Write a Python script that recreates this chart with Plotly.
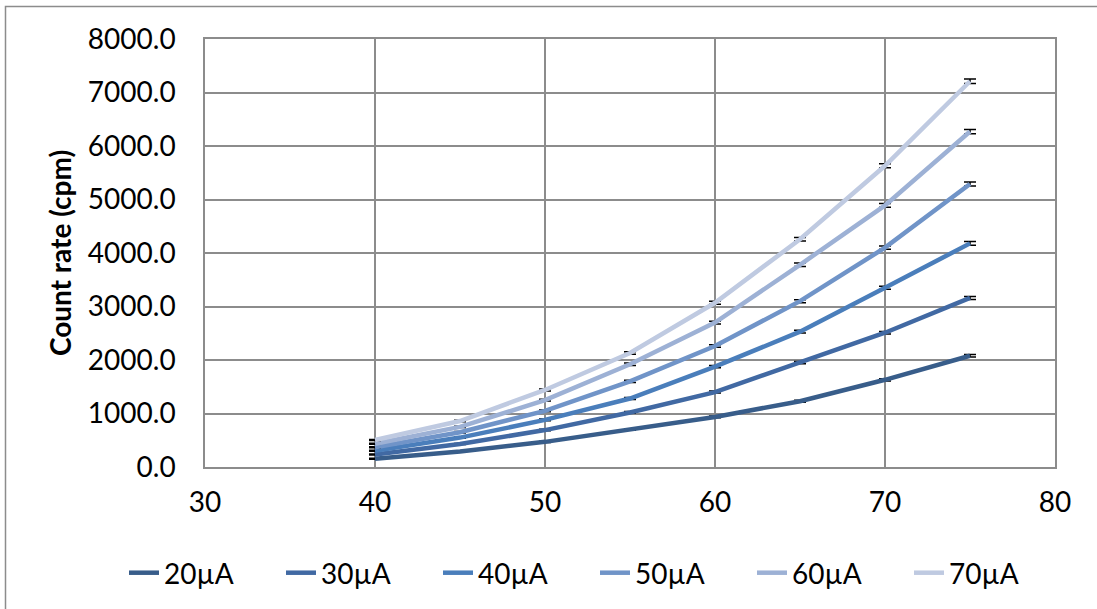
import plotly.graph_objects as go

voltage = [40, 45, 50, 55, 60, 65, 70, 75]
series_names = ["20µA", "30µA", "40µA", "50µA", "60µA", "70µA"]
rate_20 = [155, 290, 470, 700, 935, 1230, 1630, 2080]
rate_30 = [235, 430, 690, 1020, 1400, 1950, 2510, 3160]
rate_40 = [305, 550, 880, 1280, 1875, 2530, 3350, 4180]
rate_50 = [370, 650, 1050, 1600, 2262, 3100, 4100, 5290]
rate_60 = [435, 750, 1250, 1920, 2700, 3780, 4890, 6270]
rate_70 = [505, 860, 1440, 2130, 3070, 4256, 5630, 7210]
err_20 = [8, 10, 12, 14, 16, 18, 21, 24]
err_30 = [9, 11, 14, 17, 19, 22, 25, 28]
err_40 = [10, 12, 15, 18, 22, 25, 29, 33]
err_50 = [10, 13, 17, 20, 24, 28, 32, 37]
err_60 = [11, 14, 18, 22, 26, 31, 35, 40]
err_70 = [11, 15, 19, 23, 28, 33, 38, 43]

rates = [rate_20, rate_30, rate_40, rate_50, rate_60, rate_70]
errs = [err_20, err_30, err_40, err_50, err_60, err_70]
colors = ["#385D8A", "#4169A3", "#4A7EBB", "#7094C8", "#9DB1D5", "#BFCAE1"]

FONT = "Lato"
FS = 28
fig = go.Figure()
for name, r, e, c in zip(series_names, rates, errs, colors):
    fig.add_trace(go.Scatter(
        x=voltage, y=r, name=name, mode="lines",
        line=dict(color=c, width=4.5),
        error_y=dict(type="data", array=e, visible=True, color="black",
                     thickness=1.5, width=6),
    ))

L, R, T, B = 205, 42, 39, 142
W, H = 1097, 609
pw, ph = W - L - R, H - T - B

def px_x(p):
    return (p - L) / pw

def px_y(p):
    return (H - B - p) / ph

fig.update_layout(
    width=W, height=H,
    margin=dict(l=L, r=R, t=T, b=B, autoexpand=False),
    paper_bgcolor="white", plot_bgcolor="white",
    font=dict(family=FONT, size=FS, color="black"),
    showlegend=True,
    legend=dict(orientation="h",
                x=px_x(124), xanchor="left",
                y=px_y(573), yanchor="middle",
                font=dict(family=FONT, size=FS),
                entrywidth=112, itemwidth=30,
                bgcolor="rgba(0,0,0,0)"),
    xaxis=dict(range=[30, 80], dtick=10, tick0=30,
               showgrid=True, gridcolor="#8C8C8C", gridwidth=1.5,
               showline=True, linecolor="#8C8C8C", linewidth=1.5, mirror=True,
               zeroline=False, ticks="outside", ticklen=0,
               ticklabelstandoff=10,
               tickfont=dict(family=FONT, size=FS)),
    yaxis=dict(range=[0, 8000], dtick=1000, tickformat=".1f",
               showgrid=True, gridcolor="#8C8C8C", gridwidth=1.5,
               showline=True, linecolor="#8C8C8C", linewidth=1.5, mirror=True,
               zeroline=False, ticks="outside", ticklen=0,
               ticklabelstandoff=22,
               tickfont=dict(family=FONT, size=FS),
               title=dict(text="<b>Count rate (cpm)</b>", standoff=8,
                          font=dict(family=FONT, size=FS))),
    shapes=[dict(type="rect", xref="paper", yref="paper",
                 x0=px_x(5.5), x1=px_x(1102), y0=px_y(614), y1=px_y(6.5),
                 line=dict(color="#8C8C8C", width=1.5), layer="below")],
)

fig.write_html("out.html",
               config={"displayModeBar": False},
               post_script="document.body.style.margin='0';"
                           "document.body.style.overflow='hidden';")
